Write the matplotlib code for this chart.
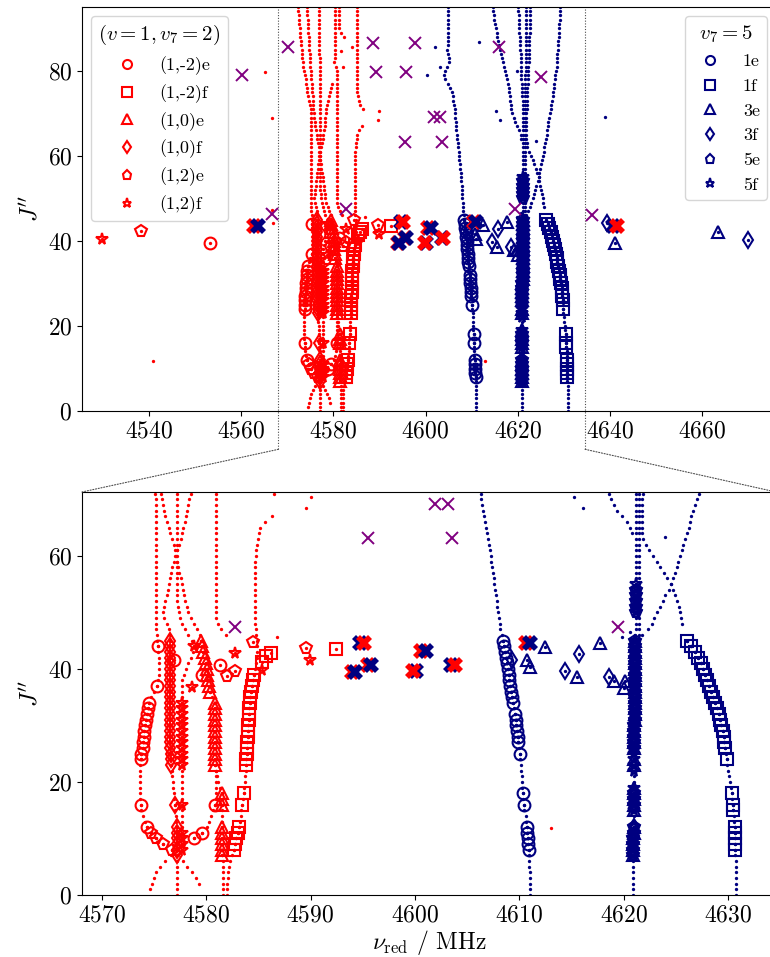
import numpy as np
import matplotlib
matplotlib.use("Agg")
import matplotlib.pyplot as plt
from matplotlib.lines import Line2D
from matplotlib.patches import ConnectionPatch

plt.rcParams["font.family"] = "serif"
plt.rcParams["font.serif"] = ["cmr10"]
plt.rcParams["mathtext.fontset"] = "cm"
plt.rcParams["axes.unicode_minus"] = False
plt.rcParams["axes.formatter.use_mathtext"] = True

RED = "red"
NAVY = "#000080"
PURPLE = "#800080"

# predicted levels, nu in MHz for consecutive J starting at *_j0
red_a_j0 = 2
red_a = [4579.3, 4579.0, 4578.6, 4578.2, 4577.8, 4577.3, 4576.7, 4575.9,
         4575.2, 4574.7, 4574.3, 4574.1, 4573.9, 4573.8, 4573.8, 4573.7, 4573.7, 4573.7,
         4573.7, 4573.7, 4573.7, 4573.7, 4573.8, 4573.8, 4573.9, 4573.9, 4574.0, 4574.0,
         4574.1, 4574.2, 4574.3, 4574.4, 4574.5, 4574.7, 4575.0, 4575.3, 4575.4, 4575.5,
         4575.5, 4575.5, 4575.5, 4575.4, 4575.4, 4575.3, 4575.3, 4575.2, 4575.2, 4575.2,
         4575.2, 4575.2, 4575.2, 4575.2, 4575.2, 4575.2, 4575.2, 4575.2, 4575.2, 4575.2,
         4575.2, 4575.2, 4575.2, 4575.2, 4575.2, 4575.2, 4575.2, 4575.2, 4575.2, 4575.2,
         4575.2, 4575.1, 4574.9, 4574.7, 4574.6, 4574.4, 4574.3, 4574.1, 4574.0, 4573.8,
         4573.7, 4573.5, 4573.4, 4573.3, 4573.2, 4573.1, 4573.0, 4572.9, 4572.8, 4572.8,
         4572.7, 4572.6, 4572.5, 4572.5, 4572.4, 4572.3]
red_b_j0 = 1
red_b = [4574.6, 4574.8, 4575.0, 4575.2, 4575.6, 4576.1, 4576.6, 4577.2, 4577.9,
         4578.8, 4579.6, 4580.1, 4580.3, 4580.5, 4580.7, 4580.8, 4580.9, 4580.9, 4580.9,
         4580.9, 4580.9, 4580.9, 4580.8, 4580.8, 4580.8, 4580.8, 4580.8, 4580.8, 4580.8,
         4580.8, 4580.8, 4580.8, 4580.8, 4580.8, 4580.6, 4580.4, 4580.3, 4580.2, 4580.1,
         4580.1, 4580.0, 4579.9, 4579.7, 4579.6, 4579.5, 4579.4, 4579.1, 4578.8, 4578.5,
         4578.3, 4578.2, 4578.0, 4577.9, 4577.8, 4577.7, 4577.6, 4577.4, 4577.3, 4577.2,
         4577.1, 4577.0, 4576.9, 4576.7, 4576.5, 4576.4, 4576.2, 4576.1, 4576.0, 4575.9,
         4575.8, 4575.7, 4575.6, 4575.5, 4575.5, 4575.4, 4575.4, 4575.3, 4575.2, 4575.1,
         4575.1, 4575.0, 4575.0, 4574.9, 4574.9, 4574.8, 4574.8, 4574.7, 4574.7, 4574.6,
         4574.6, 4574.5, 4574.5, 4574.4, 4574.4, 4574.3]
red_c_j0 = 0
red_c = [4577.2, 4577.2, 4577.2, 4577.2, 4577.2, 4577.2, 4577.2, 4577.2, 4577.2, 4577.2,
         4577.2, 4577.2, 4577.2, 4577.1, 4577.1, 4577.0, 4577.0, 4576.9, 4576.9, 4576.8,
         4576.8, 4576.7, 4576.7, 4576.6, 4576.6, 4576.6, 4576.5, 4576.5, 4576.5, 4576.5,
         4576.5, 4576.5, 4576.5, 4576.5, 4576.5, 4576.5, 4576.5, 4576.5, 4576.5, 4576.5,
         4576.5, 4576.5, 4576.5, 4576.5, 4576.5, 4576.5, 4576.5, 4576.4, 4576.2, 4576.0,
         4575.9, 4576.0, 4576.1, 4576.2, 4576.3, 4576.4, 4576.5, 4576.6, 4576.7, 4576.9,
         4577.0, 4577.2, 4577.4, 4577.6, 4577.7, 4577.8, 4578.0, 4578.1, 4578.2, 4578.3,
         4578.4, 4578.5, 4578.7, 4578.9, 4579.1, 4579.3, 4579.5, 4579.7]
red_d_j0 = 8
red_d = [4577.7, 4577.7,
         4577.7, 4577.7, 4577.7, 4577.7, 4577.7, 4577.7, 4577.7, 4577.7, 4577.7, 4577.7,
         4577.7, 4577.7, 4577.7, 4577.7, 4577.7, 4577.7, 4577.7, 4577.7, 4577.7, 4577.7,
         4577.7, 4577.7, 4577.7, 4577.7, 4577.7, 4577.7, 4577.7, 4577.7, 4577.7, 4577.9,
         4578.1, 4578.3, 4578.5, 4578.7, 4578.8, 4578.6, 4578.3, 4578.0, 4577.7, 4577.5,
         4577.4, 4577.3, 4577.2, 4577.2, 4577.2, 4577.2, 4577.2, 4577.2, 4577.2, 4577.2,
         4577.2, 4577.2, 4577.2, 4577.2, 4577.2, 4577.2, 4577.2, 4577.2, 4577.2, 4577.2,
         4577.2, 4577.2, 4577.1, 4577.1, 4577.1, 4577.1, 4577.1, 4577.1, 4577.1, 4577.1,
         4577.1, 4577.1, 4577.1, 4577.1, 4577.0, 4577.0, 4577.0, 4577.0, 4577.0, 4577.0,
         4577.0, 4577.0, 4577.0, 4577.0, 4577.0, 4577.0]
red_e_j0 = 46
red_e = [4581.9, 4581.4, 4581.1, 4580.9,
         4580.9, 4580.9, 4580.9, 4580.9, 4580.9, 4580.9, 4580.9, 4580.9, 4580.9, 4580.9,
         4580.9, 4580.9, 4580.9, 4580.9, 4580.9, 4580.9, 4580.9, 4580.9, 4580.9, 4580.9,
         4580.9, 4580.9, 4580.9, 4580.9, 4580.9, 4580.9, 4580.9, 4580.9, 4580.9, 4580.9,
         4580.9, 4580.6, 4580.2, 4580.3, 4580.4, 4580.4, 4580.4, 4580.4, 4580.4, 4580.4,
         4580.4, 4580.4, 4580.4, 4580.4, 4580.4, 4580.4]
red_f_j0 = 88
red_f = [4582.3, 4581.6, 4581.3, 4581.2, 4581.2, 4581.2, 4581.2, 4581.2]
red_g_j0 = 71
red_g = [4586.5, 4585.8, 4585.5, 4585.3, 4585.2,
         4585.1, 4585.1, 4585.1, 4585.1, 4585.1, 4585.1, 4585.1, 4585.1, 4585.1, 4585.1,
         4585.1, 4585.1, 4585.1, 4585.1, 4585.1, 4585.1, 4585.1, 4585.1, 4585.1, 4585.1]
red_h_j0 = 0
red_h = [4582.0, 4582.0, 4582.0, 4582.1, 4582.1, 4582.2, 4582.3, 4582.5, 4582.7, 4582.8,
         4582.9, 4583.0, 4583.1, 4583.2, 4583.3, 4583.3, 4583.4, 4583.5, 4583.6, 4583.6,
         4583.7, 4583.7, 4583.8, 4583.8, 4583.8, 4583.9, 4583.9, 4583.9, 4584.0, 4584.0,
         4584.0, 4584.1, 4584.1, 4584.1, 4584.2, 4584.2, 4584.3, 4584.4, 4584.5, 4584.6,
         4584.7, 4584.8, 4584.9, 4584.9, 4584.9, 4584.9, 4584.8, 4584.8, 4584.7, 4584.7,
         4584.7, 4584.7, 4584.7, 4584.7, 4584.7, 4584.7, 4584.7, 4584.7, 4584.7, 4584.7,
         4584.8, 4584.8, 4584.9, 4585.0, 4585.1, 4585.2, 4585.6, 4586.3]
red_n_j0 = 0
red_n = [4581.6, 4581.6, 4581.6, 4581.6, 4581.6, 4581.6, 4581.6,
         4581.5, 4581.5, 4581.5, 4581.5, 4581.5, 4581.5, 4581.5, 4581.5, 4581.5, 4581.5,
         4581.5, 4581.5, 4581.3, 4581.1, 4581.0, 4580.9]

blue_a_j0 = 0
blue_a = [4611.0, 4611.0, 4611.0, 4611.0, 4611.0, 4610.9, 4610.9, 4610.9, 4610.9, 4610.8,
          4610.8, 4610.7, 4610.7, 4610.6, 4610.6, 4610.5, 4610.5, 4610.4, 4610.4, 4610.3,
          4610.3, 4610.3, 4610.2, 4610.2, 4610.1, 4610.1, 4610.0, 4609.9, 4609.9, 4609.8,
          4609.7, 4609.7, 4609.6, 4609.5, 4609.4, 4609.3, 4609.2, 4609.1, 4609.0, 4609.0,
          4608.9, 4608.8, 4608.7, 4608.6, 4608.5, 4608.4, 4608.3, 4608.2, 4608.2, 4608.1,
          4608.0, 4607.9, 4607.9, 4607.8, 4607.7, 4607.6, 4607.6, 4607.5, 4607.4, 4607.3,
          4607.3, 4607.2, 4607.1, 4607.0, 4606.9, 4606.8, 4606.7, 4606.6, 4606.5, 4606.4,
          4606.3, 4606.3, 4606.2, 4606.0, 4605.9, 4605.7, 4605.4, 4604.9, 4604.3, 4604.0,
          4604.2, 4604.7, 4605.0, 4605.0, 4604.9, 4604.6, 4604.8, 4604.9, 4604.9, 4604.9,
          4604.9, 4604.9, 4604.9, 4604.9, 4604.9, 4604.9]
blue_b_j0 = 0
blue_b = [4620.9, 4620.9, 4620.9, 4620.9, 4620.9, 4620.9, 4620.9, 4620.9, 4620.9, 4620.9,
          4620.9, 4621.0, 4621.0, 4621.0, 4621.0, 4621.0, 4621.0, 4621.0, 4621.0, 4621.0,
          4621.0, 4621.0, 4621.0, 4621.0, 4621.0, 4621.0, 4621.0, 4621.0, 4621.0, 4621.0,
          4621.0, 4621.1, 4621.1, 4621.1, 4621.1, 4621.1, 4621.1, 4621.1, 4621.1, 4621.1,
          4621.1, 4621.1, 4621.1, 4621.1, 4621.1, 4621.1, 4621.1, 4621.2, 4621.2, 4621.2,
          4621.2, 4621.2, 4621.2, 4621.2, 4621.2, 4621.2, 4621.2, 4621.2, 4621.2, 4621.2,
          4621.2, 4621.2, 4621.2, 4621.2, 4621.2, 4621.2, 4621.2, 4621.2, 4621.2, 4621.2,
          4621.2, 4621.2, 4621.1, 4621.1, 4621.0, 4621.0, 4620.9, 4620.9, 4620.8, 4620.8,
          4620.7, 4620.7, 4620.6, 4620.6, 4620.6, 4620.5, 4620.5, 4620.4, 4620.4, 4620.3,
          4620.3, 4620.3, 4620.2, 4620.2, 4620.1, 4620.1]
blue_c_j0 = 44
blue_c = [4621.5, 4621.5, 4621.5, 4621.5, 4621.5, 4621.5, 4621.5, 4621.5, 4621.5, 4621.5,
          4621.5, 4621.5, 4621.5, 4621.5, 4621.5, 4621.5, 4621.5, 4621.5, 4621.5, 4621.5,
          4621.5, 4621.5, 4621.5, 4621.5, 4621.5, 4621.5, 4621.5, 4621.5,
          4621.6, 4621.6, 4621.6, 4621.6, 4621.6, 4621.6, 4621.6, 4621.6,
          4621.7, 4621.7, 4621.7, 4621.7, 4621.7, 4621.7, 4621.7, 4621.7,
          4621.8, 4621.8, 4621.8, 4621.8, 4621.8, 4621.8, 4621.8, 4621.8]
blue_e_j0 = 48
blue_e = [4625.6, 4625.5,
          4625.4, 4625.3, 4625.1, 4624.9, 4624.7, 4624.5, 4624.2, 4623.9, 4623.5, 4623.2,
          4622.8, 4622.4, 4622.1, 4621.9, 4621.8, 4621.8, 4621.8, 4621.8, 4621.8, 4621.8,
          4621.8, 4621.9, 4621.9, 4622.0, 4622.0, 4622.1, 4622.1, 4622.2, 4622.2, 4622.3,
          4622.3, 4622.3, 4622.4, 4622.4, 4622.4, 4622.5, 4622.5, 4622.5, 4622.5, 4622.6,
          4622.6, 4622.6, 4622.6, 4622.6, 4622.6, 4622.6]
blue_f_j0 = 46
blue_f = [4621.8, 4622.3, 4622.7, 4622.9,
          4623.2, 4623.5, 4623.8, 4624.0, 4624.3, 4624.5, 4624.7, 4624.9, 4625.1, 4625.2,
          4625.4, 4625.6, 4625.7, 4625.9, 4626.1, 4626.3, 4626.4, 4626.5, 4626.6, 4626.8,
          4627.0, 4627.2, 4627.3, 4627.4, 4627.6, 4627.7, 4627.8, 4627.9, 4628.0, 4628.1,
          4628.3, 4628.4, 4628.5, 4628.5, 4628.6, 4628.7, 4628.7, 4628.8, 4628.9, 4628.9,
          4629.0, 4629.0, 4629.1, 4629.1, 4629.2, 4629.2]
blue_g_j0 = 64
blue_g = [4620.8, 4620.6, 4620.3, 4619.8, 4619.4, 4619.1,
          4618.8, 4618.6, 4618.5, 4618.4, 4618.3, 4618.2, 4618.0, 4617.9, 4617.7, 4617.5,
          4617.3, 4617.0, 4616.8, 4616.5, 4616.3, 4616.1, 4615.9, 4615.7, 4615.5, 4615.4,
          4615.2, 4615.1, 4614.9, 4614.8, 4614.7, 4614.6]
blue_h_j0 = 0
blue_h = [4630.8, 4630.8, 4630.8, 4630.8, 4630.8, 4630.8, 4630.8, 4630.7, 4630.7, 4630.7,
          4630.7, 4630.7, 4630.7, 4630.6, 4630.6, 4630.5, 4630.5, 4630.4, 4630.4, 4630.3,
          4630.2, 4630.1, 4630.0, 4629.9, 4629.9, 4629.8, 4629.7, 4629.6, 4629.6, 4629.5,
          4629.3, 4629.2, 4629.1, 4628.9, 4628.8, 4628.6, 4628.4, 4628.2, 4628.0, 4627.8,
          4627.6, 4627.4, 4627.1, 4626.8, 4626.5, 4626.1]

# stray predicted points
red_dot_nu = [4541.0, 4565.2, 4566.6, 4566.8, 4566.9, 4584.0, 4581.7, 4582.2,
              4590.0, 4589.6, 4586.8, 4613.0]
red_dot_J = [11.7, 79.8, 68.9, 47.3, 44.2, 85.7, 84.7, 80.8, 70.5, 68.4, 45.7, 11.8]
blue_dot_nu = [4615.2, 4616.1, 4624.0, 4619.8, 4620.6, 4611.5, 4619.8, 4638.9,
               4602.1, 4600.4, 4603.1]
blue_dot_J = [70.5, 68.4, 63.4, 45.7, 46.6, 86.7, 80.0, 69.1, 85.5, 79.0, 80.8]

# assigned lines (v=1, v7=2): J on a predicted curve plus free points
r_e1_on_a = [12, 16] + list(range(24, 35)) + [37, 44]
r_e1_on_b = [10, 11, 16]
r_e1_nu = [4576.9, 4579.6, 4581.3, 4553.3]
r_e1_J = [41.6, 38.9, 40.7, 39.6]
r_f1_on_h = [8, 9, 10, 11, 12, 16, 18] + list(range(23, 40))
r_f1_nu = [4585.3, 4585.7, 4586.2, 4592.4]
r_f1_J = [41.3, 42.2, 42.9, 43.6]
r_e0_on_b = list(range(23, 35)) + list(range(36, 46))
r_e0_on_n = [7, 8, 9, 10, 11, 12, 16, 17, 18]
r_f0_on_c = [7, 8, 9, 10, 11, 12, 16] + list(range(23, 46))
r_e2_on_a = [8, 9, 10, 11]
r_e2_nu = [4584.5, 4582.8, 4582.0, 4589.6, 4538.3]
r_e2_J = [44.8, 39.7, 38.8, 43.7, 42.3]
r_f2_on_d = [8, 9, 10, 11, 16] + list(range(23, 35)) + [44]
r_f2_nu = [4578.6, 4582.8, 4585.3, 4589.9, 4529.8]
r_f2_J = [36.8, 42.8, 39.8, 41.6, 40.5]

# assigned lines (v7=5)
b_1e_on_a = [8, 9, 10, 11, 12, 16, 18, 25] + list(range(27, 33)) + list(range(34, 46))
b_1f_on_h = [8, 9, 10, 11, 12, 15, 16, 18, 24] + list(range(26, 46))
b_3e_on_b = list(range(7, 13)) + list(range(15, 20)) + [23, 24] + list(range(26, 46))
b_3e_nu = [4610.7, 4611.0, 4612.5, 4615.5, 4617.7, 4619.1, 4620.1, 4620.0, 4641.0, 4663.5]
b_3e_J = [41.6, 40.4, 43.8, 38.6, 44.5, 37.8, 37.8, 36.6, 39.4, 42.1]
b_3f_on_b = [8, 10, 12, 16, 18, 27, 29, 31, 33, 35, 37, 39, 41]
b_3f_nu = [4609.3, 4614.4, 4615.7, 4618.6, 4639.3, 4670.0]
b_3f_J = [41.6, 39.7, 42.7, 38.6, 44.3, 40.3]
b_5e_on_b = list(range(7, 13)) + [16, 17, 18] + list(range(26, 46)) + list(range(50, 55))
b_5f_on_b = list(range(7, 13)) + list(range(15, 20)) + list(range(22, 46)) + list(range(50, 56))

# blended lines (bold X), red and navy copies
xb_J = [43.6, 44.5, 39.5, 40.7, 39.6, 43.1, 40.7, 44.5, 43.4]
xb_red_nu = [4562.9, 4595.1, 4594.0, 4595.5, 4599.85, 4600.6, 4603.8, 4610.6, 4641.5]
xb_navy_nu = [4563.6, 4594.7, 4594.3, 4595.8, 4600.15, 4601.1, 4603.5, 4611.0, 4640.6]
xb_red_top = [False, True, False, False, True, False, True, False, True]

# unassigned
ux_nu = [4560.1, 4566.6, 4570.2, 4582.8, 4588.5, 4589.3, 4595.5, 4595.8, 4597.7,
         4601.9, 4603.2, 4603.6, 4616.0, 4619.5, 4625.0, 4636.1]
ux_J = [79.0, 46.3, 85.5, 47.4, 86.5, 79.8, 63.2, 79.8, 86.5,
        69.1, 69.1, 63.2, 85.7, 47.4, 78.6, 46.2]

red_labels = ["(1,-2)e", "(1,-2)f", "(1,0)e", "(1,0)f", "(1,2)e", "(1,2)f"]
blue_labels = ["1e", "1f", "3e", "3f", "5e", "5f"]
shapes = ["o", "s", "^", "d", "p", "*"]


def jrange(j0, nu):
    return np.arange(j0, j0 + len(nu))


def at(j0, nu, js):
    return [nu[j - j0] for j in js]


red_curves = [(red_a_j0, red_a), (red_b_j0, red_b), (red_c_j0, red_c), (red_d_j0, red_d),
              (red_e_j0, red_e), (red_f_j0, red_f), (red_g_j0, red_g), (red_h_j0, red_h),
              (red_n_j0, red_n)]
blue_curves = [(blue_a_j0, blue_a), (blue_b_j0, blue_b), (blue_c_j0, blue_c),
               (blue_e_j0, blue_e), (blue_f_j0, blue_f), (blue_g_j0, blue_g),
               (blue_h_j0, blue_h)]

red_sets = [
    (at(red_a_j0, red_a, r_e1_on_a) + at(red_b_j0, red_b, r_e1_on_b) + r_e1_nu,
     r_e1_on_a + r_e1_on_b + r_e1_J),
    (at(red_h_j0, red_h, r_f1_on_h) + r_f1_nu, r_f1_on_h + r_f1_J),
    (at(red_b_j0, red_b, r_e0_on_b) + at(red_n_j0, red_n, r_e0_on_n), r_e0_on_b + r_e0_on_n),
    (at(red_c_j0, red_c, r_f0_on_c), r_f0_on_c),
    (at(red_a_j0, red_a, r_e2_on_a) + r_e2_nu, r_e2_on_a + r_e2_J),
    (at(red_d_j0, red_d, r_f2_on_d) + r_f2_nu, r_f2_on_d + r_f2_J),
]
blue_sets = [
    (at(blue_a_j0, blue_a, b_1e_on_a), b_1e_on_a),
    (at(blue_h_j0, blue_h, b_1f_on_h), b_1f_on_h),
    (at(blue_b_j0, blue_b, b_3e_on_b) + b_3e_nu, b_3e_on_b + b_3e_J),
    (at(blue_b_j0, blue_b, b_3f_on_b) + b_3f_nu, b_3f_on_b + b_3f_J),
    (at(blue_b_j0, blue_b, b_5e_on_b), b_5e_on_b),
    (at(blue_b_j0, blue_b, b_5f_on_b), b_5f_on_b),
]


def draw(ax):
    for j0, nu in red_curves:
        ax.plot(nu, jrange(j0, nu), "o", color=RED, ms=2.4, mew=0, zorder=2)
    for j0, nu in blue_curves:
        ax.plot(nu, jrange(j0, nu), "o", color=NAVY, ms=2.4, mew=0, zorder=2)
    ax.plot(red_dot_nu, red_dot_J, "o", color=RED, ms=2.4, mew=0, zorder=2)
    ax.plot(blue_dot_nu, blue_dot_J, "o", color=NAVY, ms=2.4, mew=0, zorder=2)

    for (nu, J), m in zip(red_sets, shapes):
        ax.plot(nu, J, m, ls="none", mfc="none", mec=RED, ms=8.5, mew=1.5, zorder=3)
        ax.plot(nu, J, "o", color=RED, ms=2.4, mew=0, zorder=3)
    for (nu, J), m in zip(blue_sets, shapes):
        ax.plot(nu, J, m, ls="none", mfc="none", mec=NAVY, ms=8.5, mew=1.5, zorder=3)
        ax.plot(nu, J, "o", color=NAVY, ms=2.4, mew=0, zorder=3)

    for j, nr, nn, rtop in zip(xb_J, xb_red_nu, xb_navy_nu, xb_red_top):
        ax.plot(nr, j, "X", color=RED, ms=11, mew=0, zorder=5 if rtop else 4)
        ax.plot(nn, j, "X", color=NAVY, ms=11, mew=0, zorder=4 if rtop else 5)

    ax.plot(ux_nu, ux_J, "x", color=PURPLE, ms=9, mew=1.4, zorder=4)


fig = plt.figure(figsize=(7.7, 9.57), dpi=100)
ax1 = fig.add_axes([0.1065, 0.5705, 0.9013, 0.4222])
ax2 = fig.add_axes([0.1065, 0.0648, 0.9013, 0.4211])

draw(ax1)
draw(ax2)

ax1.set_xlim(4525.5, 4676.0)
ax1.set_ylim(0, 95)
ax1.set_xticks([4540, 4560, 4580, 4600, 4620, 4640, 4660])
ax1.set_yticks([0, 20, 40, 60, 80])
ax2.set_xlim(4568.1, 4634.6)
ax2.set_ylim(0, 71.3)
ax2.set_xticks([4570, 4580, 4590, 4600, 4610, 4620, 4630])
ax2.set_yticks([0, 20, 40, 60])

for ax in (ax1, ax2):
    ax.tick_params(labelsize=17)
    ax.set_ylabel(r"$J''$", fontsize=17)
ax2.set_xlabel(r"$\nu_{\rm red}$ / MHz", fontsize=17, labelpad=1)

# zoom indicator
lo, hi = ax2.get_xlim()
top_J = ax2.get_ylim()[1]
for x in (lo, hi):
    ax1.plot([x, x], [-9, 95], ls=(0, (1, 1.5)), color="0.3", lw=0.8, clip_on=False, zorder=1)
    con = ConnectionPatch(xyA=(x, -9), coordsA=ax1.transData,
                          xyB=(x, top_J), coordsB=ax2.transData,
                          ls=(0, (1, 1.5)), color="0.3", lw=0.8)
    fig.add_artist(con)

red_handles = [Line2D([], [], ls="none", marker=m, mfc="none", mec=RED, ms=6.5, mew=1.5)
               for m in shapes]
blue_handles = [Line2D([], [], ls="none", marker=m, mfc="none", mec=NAVY, ms=6.5, mew=1.5)
                for m in shapes]
leg1 = ax1.legend(red_handles, red_labels, title=r"$(v=1, v_7=2)$", loc="upper left",
                  fontsize=13, title_fontsize=15)
ax1.add_artist(leg1)
ax1.legend(blue_handles, blue_labels, title=r"$v_7=5$", loc="upper right",
           fontsize=13, title_fontsize=15)

fig.savefig("out.png", dpi=100)
